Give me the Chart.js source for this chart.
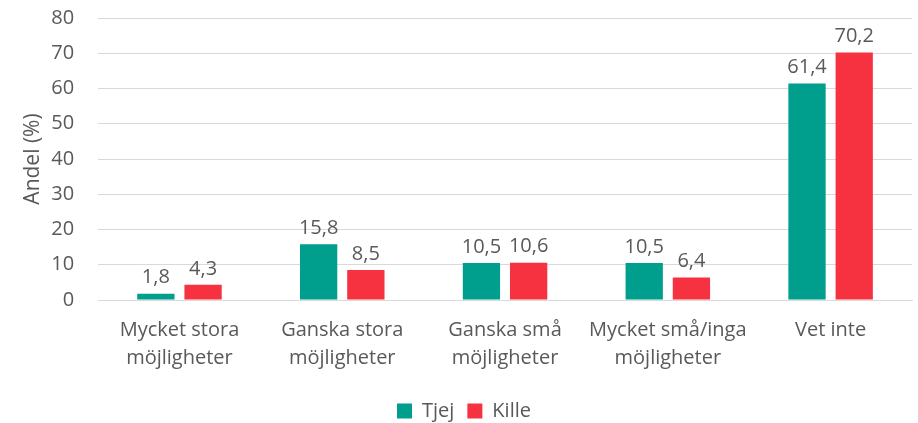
<!DOCTYPE html>
<html>
<head>
<meta charset="utf-8">
<script src="https://cdn.jsdelivr.net/npm/chart.js@4"></script>
<style>
  body { margin: 0; background: #fff; }
  #wrap { width: 918px; height: 423px; }
</style>
</head>
<body>
<div id="wrap"><canvas id="chart"></canvas></div>
<script>
const categories = [
  ["Mycket stora", "möjligheter"],
  ["Ganska stora", "möjligheter"],
  ["Ganska små", "möjligheter"],
  ["Mycket små/inga", "möjligheter"],
  ["Vet inte"],
];
const tjejValues = [1.8, 15.8, 10.5, 10.5, 61.4];
const killeValues = [4.3, 8.5, 10.6, 6.4, 70.2];
const seriesNames = ["Tjej", "Kille"];

const textColor = "#595959";
const fontFamily = "'Open Sans', 'Liberation Sans', Arial, sans-serif";

const valueLabels = {
  id: "valueLabels",
  afterDatasetsDraw(chart) {
    const ctx = chart.ctx;
    ctx.save();
    ctx.font = "20px " + fontFamily;
    ctx.fillStyle = textColor;
    ctx.textAlign = "center";
    ctx.textBaseline = "bottom";
    chart.data.datasets.forEach((ds, i) => {
      chart.getDatasetMeta(i).data.forEach((bar, j) => {
        const text = ds.data[j].toFixed(1).replace(".", ",");
        ctx.fillText(text, bar.x, bar.y - 6);
      });
    });
    ctx.restore();
  },
};

new Chart(document.getElementById("chart"), {
  type: "bar",
  data: {
    labels: categories,
    datasets: [
      {
        label: seriesNames[0],
        data: tjejValues,
        backgroundColor: "#009E8C",
        barPercentage: 0.79,
        categoryPercentage: 0.58,
      },
      {
        label: seriesNames[1],
        data: killeValues,
        backgroundColor: "#F73240",
        barPercentage: 0.79,
        categoryPercentage: 0.58,
      },
    ],
  },
  options: {
    responsive: true,
    maintainAspectRatio: false,
    animation: false,
    layout: { padding: { left: 16, right: 6, top: 18, bottom: -8 } },
    plugins: {
      legend: {
        position: "bottom",
        labels: {
          color: textColor,
          font: { size: 20, family: fontFamily },
          boxWidth: 15,
          boxHeight: 15,
          padding: 13,
        },
      },
      tooltip: { enabled: false },
    },
    scales: {
      x: {
        grid: { display: false },
        border: { color: "#d9d9d9" },
        ticks: {
          color: textColor,
          font: { size: 20, family: fontFamily, lineHeight: 1.4 },
          maxRotation: 0,
          padding: 8,
        },
        // extra room between the category labels and the legend
        afterFit(scale) {
          scale.height += 8;
        },
      },
      y: {
        min: 0,
        max: 80,
        ticks: {
          stepSize: 10,
          color: textColor,
          font: { size: 20, family: fontFamily },
          padding: 2,
        },
        grid: {
          color: "#d9d9d9",
          drawTicks: true,
          tickLength: 22,
          tickColor: "rgba(0,0,0,0)",
        },
        border: { display: false },
        title: {
          display: true,
          text: "Andel (%)",
          color: textColor,
          font: { size: 21, family: fontFamily },
          padding: { bottom: 4 },
        },
      },
    },
  },
  plugins: [valueLabels],
});
</script>
</body>
</html>
